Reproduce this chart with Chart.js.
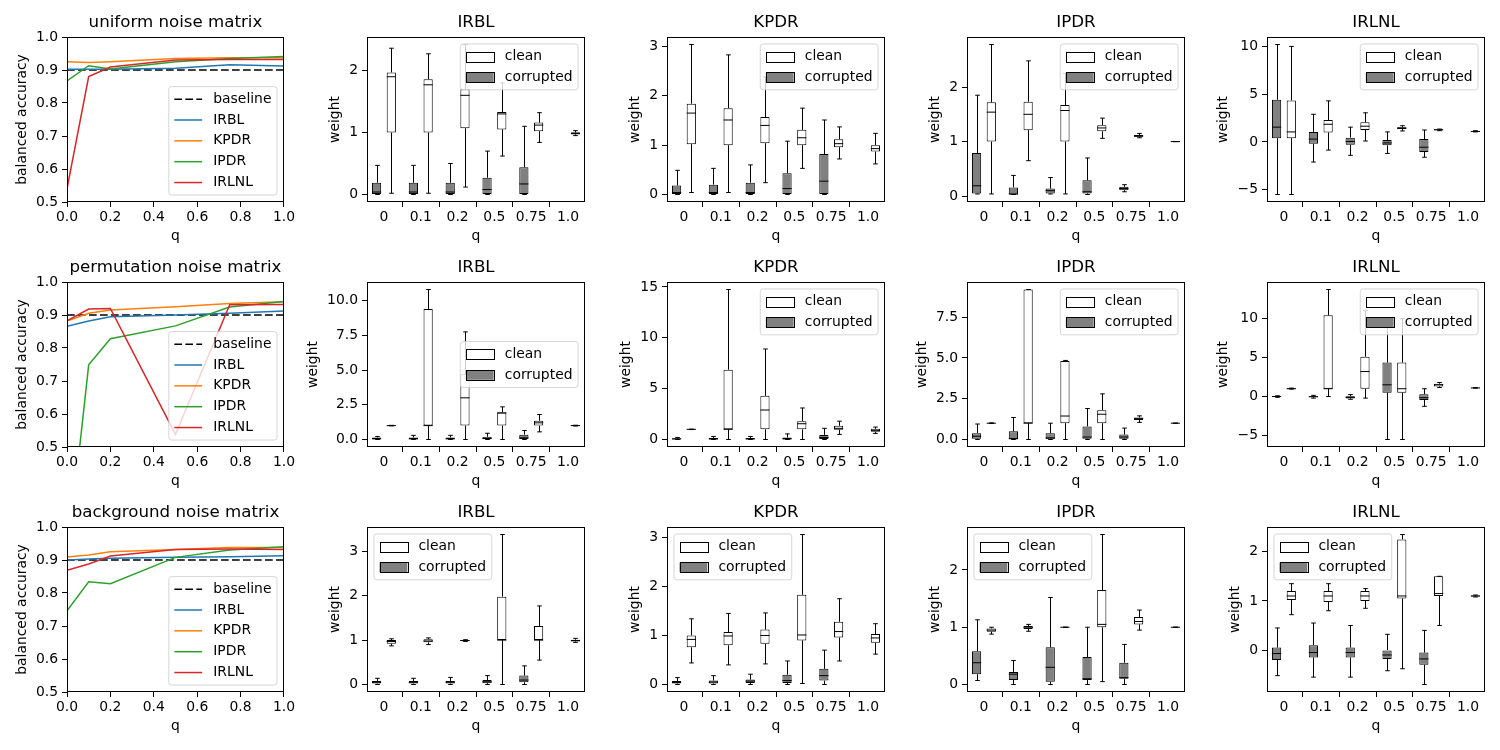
<!DOCTYPE html>
<html>
<head>
<meta charset="utf-8">
<script src="https://cdn.jsdelivr.net/npm/chart.js@4.4.1/dist/chart.umd.min.js"></script>
<style>
  body { margin: 0; background: #fff; }
  #fig { position: relative; width: 1500px; height: 750px; overflow: hidden; }
  #fig canvas { position: absolute; }
</style>
</head>
<body>
<div id="fig"></div>
<script>
// ---- data ----
const qVals = [0, 0.1, 0.2, 0.5, 0.75, 1.0];
const qLabels = ["0", "0.1", "0.2", "0.5", "0.75", "1.0"];
const methods = ["IRBL", "KPDR", "IPDR", "IRLNL"];
const noiseNames = ["uniform noise matrix", "permutation noise matrix", "background noise matrix"];
const baselineAcc = [0.9, 0.9, 0.9, 0.9, 0.9, 0.9];

// balanced accuracy, one row per method (same order as `methods`)
const accUniform = [
  [0.902, 0.902, 0.902, 0.905, 0.916, 0.912],
  [0.925, 0.923, 0.925, 0.935, 0.937, 0.937],
  [0.867, 0.913, 0.903, 0.925, 0.935, 0.941],
  [0.540, 0.880, 0.909, 0.930, 0.932, 0.932]
];
const accPermutation = [
  [0.866, 0.882, 0.895, 0.900, 0.905, 0.912],
  [0.882, 0.905, 0.915, 0.925, 0.935, 0.940],
  [0.150, 0.749, 0.828, 0.867, 0.924, 0.941],
  [0.882, 0.918, 0.920, 0.538, 0.931, 0.932]
];
const accBackground = [
  [0.900, 0.903, 0.905, 0.908, 0.910, 0.913],
  [0.909, 0.915, 0.925, 0.932, 0.938, 0.938],
  [0.746, 0.834, 0.828, 0.908, 0.930, 0.940],
  [0.869, 0.888, 0.912, 0.932, 0.933, 0.932]
];

// weight boxes: [lower whisker, q1, median, q3, upper whisker] per q
const uniIRBLCorrupted = [[0, 0, 0.04, 0.19, 0.47], [0, 0, 0.04, 0.19, 0.47], [0, 0, 0.04, 0.19, 0.50], [0, 0, 0.08, 0.27, 0.70], [0, 0, 0.17, 0.44, 1.10]];
const uniIRBLClean = [[0.02, 1.0, 1.90, 1.97, 2.36], [0.02, 1.0, 1.77, 1.86, 2.27], [0.12, 1.07, 1.60, 1.70, 2.42], [0.62, 1.05, 1.30, 1.33, 1.80], [0.84, 1.02, 1.12, 1.16, 1.32], [0.95, 0.97, 0.99, 1.00, 1.03]];
const uniKPDRCorrupted = [[0, 0, 0.04, 0.18, 0.49], [0, 0, 0.04, 0.20, 0.53], [0, 0, 0.04, 0.24, 0.60], [0, 0, 0.12, 0.43, 1.08], [0, 0, 0.27, 0.82, 1.51]];
const uniKPDRClean = [[0.04, 1.02, 1.65, 1.84, 3.04], [0.04, 1.00, 1.51, 1.75, 2.83], [0.24, 1.04, 1.40, 1.57, 2.38], [0.53, 1.00, 1.15, 1.31, 1.75], [0.72, 0.96, 1.03, 1.12, 1.37], [0.62, 0.87, 0.93, 1.00, 1.24]];
const uniIPDRCorrupted = [[0.04, 0.05, 0.19, 0.79, 1.85], [0.03, 0.03, 0.04, 0.16, 0.38], [0.04, 0.05, 0.10, 0.14, 0.34], [0.03, 0.05, 0.08, 0.29, 0.70], [0.08, 0.11, 0.14, 0.17, 0.21]];
const uniIPDRClean = [[0.04, 1.00, 1.54, 1.72, 2.78], [0.65, 1.21, 1.50, 1.73, 2.48], [0.04, 1.00, 1.57, 1.67, 2.25], [1.06, 1.19, 1.25, 1.30, 1.43], [1.07, 1.09, 1.10, 1.12, 1.15], [1.00, 1.00, 1.00, 1.00, 1.00]];
const uniIRLNLCorrupted = [[-5.5, 0.4, 1.55, 4.42, 10.2], [-2.1, -0.2, 0.3, 1.05, 2.9], [-1.4, -0.3, 0.05, 0.45, 1.55], [-1.2, -0.35, -0.1, 0.2, 1.05], [-1.6, -1.05, -0.55, 0.3, 1.25]];
const uniIRLNLClean = [[-5.5, 0.4, 1.05, 4.35, 10.0], [-0.85, 1.0, 1.85, 2.3, 4.3], [0.1, 1.25, 1.65, 2.05, 3.05], [1.15, 1.35, 1.45, 1.55, 1.7], [1.18, 1.22, 1.27, 1.32, 1.35], [1.05, 1.08, 1.1, 1.15, 1.18]];

const perIRBLCorrupted = [[0, 0.02, 0.05, 0.15, 0.22], [0, 0.02, 0.05, 0.15, 0.30], [0, 0.02, 0.05, 0.15, 0.30], [0, 0.02, 0.07, 0.20, 0.45], [0, 0.03, 0.12, 0.35, 0.65]];
const perIRBLClean = [[0.98, 0.99, 1.0, 1.01, 1.02], [0, 1.0, 1.0, 9.4, 10.8], [0, 1.0, 3.0, 4.7, 7.75], [0, 1.0, 1.9, 1.96, 2.35], [0.55, 1.0, 1.2, 1.35, 1.8], [0.97, 0.98, 1.0, 1.02, 1.03]];
const perKPDRCorrupted = [[0, 0.02, 0.05, 0.12, 0.2], [0, 0.02, 0.05, 0.15, 0.3], [0, 0.02, 0.05, 0.15, 0.3], [0, 0.02, 0.06, 0.2, 0.55], [0, 0.05, 0.2, 0.45, 1.1]];
const perKPDRClean = [[0.98, 0.99, 1.0, 1.01, 1.02], [0, 1.0, 1.0, 6.86, 14.75], [0, 1.0, 2.9, 4.29, 8.9], [0, 1.0, 1.55, 1.8, 3.1], [0.5, 0.95, 1.1, 1.35, 1.8], [0.6, 0.75, 0.9, 1.05, 1.22]];
const perIPDRCorrupted = [[0, 0.05, 0.2, 0.39, 0.95], [0, 0.02, 0.05, 0.5, 1.35], [0, 0.02, 0.1, 0.38, 1.0], [0, 0.05, 0.15, 0.8, 1.9], [0, 0.05, 0.15, 0.3, 0.7]];
const perIPDRClean = [[0.98, 0.99, 1.0, 1.01, 1.02], [0, 1.0, 1.0, 9.2, 9.2], [0, 1.0, 1.44, 4.82, 4.85], [0, 1.0, 1.55, 1.79, 2.8], [1.05, 1.2, 1.28, 1.35, 1.45], [1.0, 1.0, 1.0, 1.0, 1.0]];
const perIRLNLCorrupted = [[-0.1, -0.05, 0.0, 0.05, 0.1], [-0.2, -0.1, -0.02, 0.05, 0.15], [-0.35, -0.25, -0.1, 0.05, 0.25], [-5.5, 0.5, 1.5, 4.35, 10.0], [-1.25, -0.45, -0.15, 0.3, 1.0]];
const perIRLNLClean = [[0.95, 0.97, 1.0, 1.05, 1.08], [0, 1.0, 1.0, 10.4, 13.7], [-0.2, 1.0, 3.2, 5.1, 11.0], [-5.5, 0.5, 1.0, 4.35, 10.0], [1.15, 1.3, 1.5, 1.65, 1.8], [1.08, 1.09, 1.1, 1.12, 1.13]];

const bgIRBLCorrupted = [[0, 0.02, 0.05, 0.08, 0.14], [0, 0.02, 0.05, 0.08, 0.14], [0, 0.02, 0.05, 0.08, 0.16], [0, 0.03, 0.06, 0.10, 0.20], [0, 0.05, 0.10, 0.20, 0.42]];
const bgIRBLClean = [[0.87, 0.92, 0.97, 1.0, 1.03], [0.9, 0.95, 0.98, 1.02, 1.05], [0.97, 0.98, 0.99, 1.0, 1.01], [0, 1.0, 1.0, 1.98, 3.38], [0.55, 1.0, 1.0, 1.32, 1.77], [0.95, 0.97, 0.99, 1.01, 1.04]];
const bgKPDRCorrupted = [[0, 0.02, 0.04, 0.07, 0.14], [0, 0.02, 0.05, 0.08, 0.18], [0, 0.03, 0.07, 0.10, 0.21], [0, 0.03, 0.08, 0.20, 0.48], [0, 0.08, 0.18, 0.32, 0.70]];
const bgKPDRClean = [[0.44, 0.76, 0.92, 1.0, 1.34], [0.4, 0.8, 0.99, 1.07, 1.45], [0.42, 0.83, 1.0, 1.12, 1.46], [0.02, 0.9, 1.01, 1.83, 3.06], [0.48, 0.96, 1.08, 1.28, 1.75], [0.62, 0.85, 0.95, 1.03, 1.24]];
const bgIPDRCorrupted = [[0.07, 0.18, 0.38, 0.58, 1.13], [0.0, 0.08, 0.18, 0.22, 0.42], [0.0, 0.05, 0.3, 0.65, 1.52], [0.0, 0.08, 0.10, 0.48, 1.0], [0.0, 0.1, 0.12, 0.38, 0.7]];
const bgIPDRClean = [[0.88, 0.92, 0.95, 0.98, 1.0], [0.93, 0.97, 1.0, 1.02, 1.05], [1.0, 1.0, 1.0, 1.0, 1.0], [0.05, 1.0, 1.05, 1.65, 2.62], [0.95, 1.05, 1.1, 1.18, 1.3], [1.0, 1.0, 1.0, 1.0, 1.0]];
const bgIRLNLCorrupted = [[-0.52, -0.2, -0.07, 0.05, 0.45], [-0.55, -0.15, -0.05, 0.1, 0.55], [-0.55, -0.15, -0.05, 0.05, 0.5], [-0.42, -0.18, -0.1, 0.0, 0.32], [-0.7, -0.3, -0.18, -0.05, 0.4]];
const bgIRLNLClean = [[0.72, 1.02, 1.1, 1.2, 1.35], [0.8, 0.98, 1.1, 1.2, 1.35], [0.85, 1.0, 1.1, 1.2, 1.25], [-0.38, 1.05, 1.1, 2.25, 2.35], [0.5, 1.1, 1.15, 1.5, 1.5], [1.08, 1.09, 1.1, 1.11, 1.12]];

const yTicksBox = [
  [[0, 1, 2], [0, 1, 2, 3], [0, 1, 2], [-5, 0, 5, 10]],
  [[0, 2.5, 5, 7.5, 10], [0, 5, 10, 15], [0, 2.5, 5, 7.5], [-5, 0, 5, 10]],
  [[0, 1, 2, 3], [0, 1, 2, 3], [0, 1, 2], [0, 1, 2]]
];
const accTicks = [0.5, 0.6, 0.7, 0.8, 0.9, 1.0];
const qTicks = [0, 0.2, 0.4, 0.6, 0.8, 1.0];

// ---- layout / style ----
const accRows = [accUniform, accPermutation, accBackground];
const boxRows = [
  [[uniIRBLCorrupted, uniIRBLClean], [uniKPDRCorrupted, uniKPDRClean], [uniIPDRCorrupted, uniIPDRClean], [uniIRLNLCorrupted, uniIRLNLClean]],
  [[perIRBLCorrupted, perIRBLClean], [perKPDRCorrupted, perKPDRClean], [perIPDRCorrupted, perIPDRClean], [perIRLNLCorrupted, perIRLNLClean]],
  [[bgIRBLCorrupted, bgIRBLClean], [bgKPDRCorrupted, bgKPDRClean], [bgIPDRCorrupted, bgIPDRClean], [bgIRLNLCorrupted, bgIRLNLClean]]
];
const legendLocs = [
  ["upper right", "upper right", "upper right", "upper right"],
  ["center right", "upper right", "upper right", "upper right"],
  ["upper left", "upper left", "upper left", "upper left"]
];
const methodColors = ["#1f77b4", "#ff7f0e", "#2ca02c", "#d62728"];
const FONT = "'DejaVu Sans', sans-serif";
const FS = 13.9;
const DASH = [7.7, 3.3];

const plotLefts = [67, 367, 667, 967, 1267];
const plotTops = [37, 282, 527];
const PW = 218, PH = 165, LPAD = 66, RPAD = 12, TPAD = 37, BPAD = 48;
const TICK_LEN = 5, TICK_PAD = 4, LABEL_PAD = 5.6;

Chart.defaults.font.family = FONT;
Chart.defaults.font.size = FS;
Chart.defaults.color = "#000";
Chart.defaults.animation = false;

const fig = document.getElementById("fig");
const measureCtx = document.createElement("canvas").getContext("2d");
measureCtx.font = FS + "px " + FONT;

function makeCanvas(row, col) {
  const c = document.createElement("canvas");
  c.width = LPAD + PW + RPAD;
  c.height = TPAD + PH + BPAD;
  c.style.left = (plotLefts[col] - LPAD) + "px";
  c.style.top = (plotTops[row] - TPAD) + "px";
  fig.appendChild(c);
  return c.getContext("2d");
}

function fmtTick(v, ticks) {
  const frac = ticks.some(t => Math.round(t) !== t);
  const s = frac ? v.toFixed(1) : String(v);
  return s.replace("-", "\u2212");
}

// y label sits a fixed gap left of the widest tick label, like matplotlib
function yTitlePad(labels) {
  const w = Math.max(...labels.map(l => measureCtx.measureText(l).width));
  const centre = LPAD - TICK_LEN - TICK_PAD - w - LABEL_PAD - 8.3;
  return Math.max(0, centre - FS * 1.2 / 2);
}

// axes title centred over the plot area, plus the frame on all four sides
function framePlugin(title) {
  return {
    id: "frame",
    afterDraw(chart) {
      const { ctx, chartArea: a } = chart;
      ctx.save();
      ctx.strokeStyle = "#000";
      ctx.lineWidth = 1;
      ctx.strokeRect(Math.round(a.left) + 0.5, Math.round(a.top) + 0.5, Math.round(a.width) - 1, Math.round(a.height) - 1);
      ctx.fillStyle = "#000";
      ctx.font = "16.67px " + FONT;
      ctx.textAlign = "center";
      ctx.textBaseline = "middle";
      ctx.fillText(title, (a.left + a.right) / 2, a.top - 14);
      ctx.restore();
    }
  };
}

// whiskers, caps and median drawn over each floating bar
const whiskerPlugin = {
  id: "whiskers",
  afterDatasetsDraw(chart) {
    const ctx = chart.ctx, ys = chart.scales.y;
    ctx.save();
    ctx.strokeStyle = "#000";
    ctx.lineWidth = 1;
    chart.data.datasets.forEach((ds, di) => {
      if (!ds.stats) return;
      chart.getDatasetMeta(di).data.forEach((bar, i) => {
        const s = ds.stats[i];
        const py = v => ys.getPixelForValue(v);
        const cx = Math.round(bar.x) + 0.5, hw = bar.width / 2, cw = bar.width / 4;
        ctx.beginPath();
        ctx.moveTo(cx, py(s[1])); ctx.lineTo(cx, py(s[0]));
        ctx.moveTo(cx - cw, py(s[0])); ctx.lineTo(cx + cw, py(s[0]));
        ctx.moveTo(cx, py(s[3])); ctx.lineTo(cx, py(s[4]));
        ctx.moveTo(cx - cw, py(s[4])); ctx.lineTo(cx + cw, py(s[4]));
        ctx.moveTo(bar.x - hw, py(s[2])); ctx.lineTo(bar.x + hw, py(s[2]));
        ctx.stroke();
      });
    });
    ctx.restore();
  }
};

// matplotlib-like legend placed inside the axes
function insideLegend(items, loc) {
  return {
    id: "insideLegend",
    afterDraw(chart) {
      const { ctx, chartArea: a } = chart;
      const bp = 0.4 * FS, ls = 0.5 * FS, hl = 2 * FS, hh = 0.7 * FS, htp = 0.8 * FS, pad = 0.5 * FS;
      ctx.save();
      ctx.font = FS + "px " + FONT;
      const tw = Math.max(...items.map(it => ctx.measureText(it.label).width));
      const w = 2 * bp + hl + htp + tw;
      const h = 2 * bp + items.length * FS + (items.length - 1) * ls;
      const x = loc.includes("right") ? a.right - pad - w : a.left + pad;
      let y;
      if (loc.startsWith("upper")) y = a.top + pad;
      else if (loc.startsWith("lower")) y = a.bottom - pad - h;
      else y = (a.top + a.bottom) / 2 - h / 2;
      ctx.beginPath();
      ctx.roundRect(x, y, w, h, 0.2 * FS);
      ctx.fillStyle = "rgba(255,255,255,0.8)";
      ctx.fill();
      ctx.strokeStyle = "rgba(204,204,204,0.8)";
      ctx.lineWidth = 1;
      ctx.stroke();
      items.forEach((it, i) => {
        const cy = y + bp + i * (FS + ls) + FS / 2;
        const hx = x + bp;
        if (it.type === "line") {
          ctx.beginPath();
          ctx.setLineDash(it.dash || []);
          ctx.strokeStyle = it.color;
          ctx.lineWidth = 1.5;
          ctx.moveTo(hx, cy); ctx.lineTo(hx + hl, cy);
          ctx.stroke();
          ctx.setLineDash([]);
        } else {
          ctx.fillStyle = it.color;
          ctx.fillRect(hx, cy - hh / 2, hl, hh);
          ctx.strokeStyle = "#000";
          ctx.lineWidth = 1;
          ctx.strokeRect(Math.round(hx) + 0.5, Math.round(cy - hh / 2) + 0.5, Math.round(hl), Math.round(hh));
        }
        ctx.fillStyle = "#000";
        ctx.textBaseline = "middle";
        ctx.textAlign = "left";
        ctx.fillText(it.label, hx + hl + htp, cy);
      });
      ctx.restore();
    }
  };
}

function axisCommon() {
  return {
    grid: { display: true, drawOnChartArea: false, drawTicks: true, tickLength: TICK_LEN, color: "#000", lineWidth: 1 },
    border: { display: false }
  };
}

const layoutPad = { padding: { left: 0, right: RPAD, top: TPAD, bottom: 0 } };

// ---- accuracy line charts (first column) ----
accRows.forEach((acc, r) => {
  const ctx = makeCanvas(r, 0);
  const datasets = [{
    label: "baseline", data: qVals.map((q, i) => ({ x: q, y: baselineAcc[i] })),
    borderColor: "#000", borderDash: DASH, borderWidth: 1.5, pointRadius: 0, order: 5
  }];
  methods.forEach((m, k) => {
    datasets.push({
      label: m, data: qVals.map((q, i) => ({ x: q, y: acc[k][i] })),
      borderColor: methodColors[k], borderWidth: 1.5, pointRadius: 0, order: 4 - k
    });
  });
  const legendItems = [{ type: "line", label: "baseline", color: "#000", dash: DASH }]
    .concat(methods.map((m, k) => ({ type: "line", label: m, color: methodColors[k] })));
  const yLabels = accTicks.map(v => v.toFixed(1));
  new Chart(ctx, {
    type: "line",
    data: { datasets },
    options: {
      responsive: false,
      layout: layoutPad,
      plugins: { legend: { display: false }, tooltip: { enabled: false }, title: { display: false } },
      scales: {
        x: Object.assign(axisCommon(), {
          type: "linear", min: 0, max: 1,
          afterBuildTicks: s => { s.ticks = qTicks.map(v => ({ value: v })); },
          afterFit: s => { s.height = BPAD; },
          ticks: { padding: 2, callback: v => v.toFixed(1) },
          title: { display: true, text: "q", padding: { top: 0, bottom: 5 } }
        }),
        y: Object.assign(axisCommon(), {
          min: 0.5, max: 1.0,
          afterBuildTicks: s => { s.ticks = accTicks.map(v => ({ value: v })); },
          afterFit: s => { s.width = LPAD; },
          ticks: { padding: TICK_PAD, callback: v => v.toFixed(1) },
          title: { display: true, text: "balanced accuracy", padding: { top: yTitlePad(yLabels), bottom: 0 } }
        })
      }
    },
    plugins: [framePlugin(noiseNames[r]), insideLegend(legendItems, "lower right")]
  });
});

// ---- weight box plots ----
boxRows.forEach((row, r) => {
  row.forEach(([corr, clean], k) => {
    const ctx = makeCanvas(r, k + 1);
    const ticks = yTicksBox[r][k];
    const all = corr.concat(clean);
    const lo = Math.min(...all.map(s => s[0])), hi = Math.max(...all.map(s => s[4]));
    const m = 0.05 * (hi - lo);
    const mkSet = (label, stats, color) => ({
      label, stats,
      data: stats.map((s, i) => ({ x: i, y: [s[1], s[3]] })),
      backgroundColor: color, borderColor: "#000", borderWidth: 1, borderSkipped: false,
      categoryPercentage: 0.8, barPercentage: 0.625
    });
    const yLabels = ticks.map(v => fmtTick(v, ticks));
    new Chart(ctx, {
      type: "bar",
      data: { datasets: [mkSet("corrupted", corr, "#808080"), mkSet("clean", clean, "#ffffff")] },
      options: {
        responsive: false,
        layout: layoutPad,
        plugins: { legend: { display: false }, tooltip: { enabled: false }, title: { display: false } },
        scales: {
          x: Object.assign(axisCommon(), {
            type: "linear", min: -0.46, max: 5.46, offset: false,
            afterBuildTicks: s => { s.ticks = qLabels.map((l, i) => ({ value: i })); },
            afterFit: s => { s.height = BPAD; },
            ticks: { padding: 2, callback: v => qLabels[v] },
            title: { display: true, text: "q", padding: { top: 0, bottom: 5 } }
          }),
          y: Object.assign(axisCommon(), {
            min: lo - m, max: hi + m,
            afterBuildTicks: s => { s.ticks = ticks.map(v => ({ value: v })); },
            afterFit: s => { s.width = LPAD; },
            ticks: { padding: TICK_PAD, callback: v => fmtTick(v, ticks) },
            title: { display: true, text: "weight", padding: { top: yTitlePad(yLabels), bottom: 0 } }
          })
        }
      },
      plugins: [whiskerPlugin, framePlugin(methods[k]), insideLegend([
        { type: "patch", label: "clean", color: "#ffffff" },
        { type: "patch", label: "corrupted", color: "#808080" }
      ], legendLocs[r][k])]
    });
  });
});
</script>
</body>
</html>
